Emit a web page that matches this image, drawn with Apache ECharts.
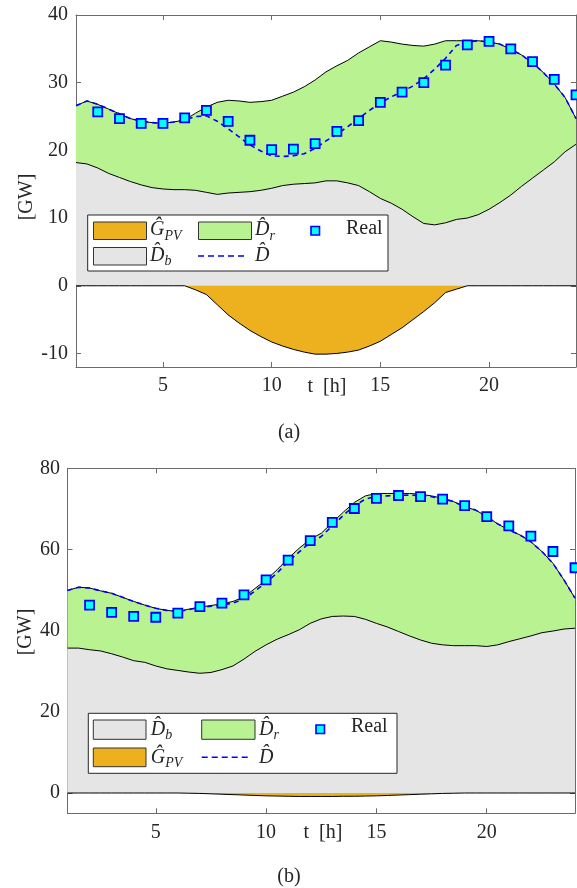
<!DOCTYPE html>
<html><head><meta charset="utf-8">
<script src="https://cdn.jsdelivr.net/npm/echarts@6/dist/echarts.min.js"></script>
<style>html,body{margin:0;padding:0;background:#fff}#c{width:577px;height:888px}</style>
</head><body><div id="c"></div>
<script>
// ---------- shared ----------
const hours = [1,1.5,2,2.5,3,3.5,4,4.5,5,5.5,6,6.5,7,7.5,8,8.5,9,9.5,10,10.5,11,11.5,12,12.5,13,13.5,14,14.5,15,15.5,16,16.5,17,17.5,18,18.5,19,19.5,20,20.5,21,21.5,22,22.5,23,23.5,24];
const realHours = [2,3,4,5,6,7,8,9,10,11,12,13,14,15,16,17,18,19,20,21,22,23,24];
const xTicks = [5,10,15,20];
const aYTicks = [-10,0,10,20,30,40];
const bYTicks = [0,20,40,60,80];

// ---------- chart (a) ----------
const aBase = [18.2,18.0,17.4,16.6,16.0,15.4,14.9,14.5,14.3,14.2,14.2,14.1,13.8,13.5,13.7,13.8,13.9,14.1,14.4,14.8,15.0,15.1,15.2,15.5,15.5,15.2,14.8,13.9,12.9,12.2,11.3,10.2,9.2,9.0,9.3,9.8,10.0,10.5,11.3,12.3,13.4,14.7,15.9,17.1,18.3,19.8,20.9];
const aRes = [8.4,9.3,9.4,9.5,9.4,9.3,9.4,9.6,9.7,10.0,10.3,11.4,12.6,13.6,13.7,13.5,13.2,13.1,13.0,13.2,13.6,14.3,15.2,16.1,17.0,18.1,19.6,21.4,23.3,23.8,24.4,25.3,26.2,26.7,26.9,26.4,26.2,25.7,24.7,23.4,21.5,19.4,17.0,14.4,11.5,8.0,3.8];
const aPV = [0,0,0,0,0,0,0,0,0,0,0,-0.6,-1.3,-2.8,-4.3,-5.5,-6.6,-7.5,-8.3,-8.9,-9.4,-9.8,-10.1,-10.1,-10.0,-9.8,-9.5,-8.9,-8.2,-7.2,-6.2,-5.0,-3.8,-2.5,-1.0,-0.5,0,0,0,0,0,0,0,0,0,0,0];
const aDhat = [26.6,27.3,26.8,26.1,25.4,24.7,24.3,24.1,24.0,24.2,24.5,25.0,25.1,24.3,23.2,22.0,20.8,19.9,19.2,19.1,19.2,19.5,20.3,21.4,22.4,23.5,24.7,25.9,27.0,27.9,28.7,29.5,30.6,32.0,33.6,35.5,36.0,36.2,36.0,35.7,34.9,34.1,32.9,31.5,29.8,27.8,24.7];
const aReal = [25.7,24.7,24.0,24.0,24.8,25.9,24.3,21.5,20.1,20.2,21.0,22.8,24.4,27.1,28.6,30.0,32.6,35.6,36.1,35.0,33.1,30.5,28.2];

// ---------- chart (b) ----------
const bBase = [35.7,35.7,35.3,35.0,34.3,33.5,32.6,32.2,31.3,30.6,30.2,29.8,29.5,29.7,30.4,31.3,33.0,34.9,36.5,37.9,39.0,40.2,41.8,42.9,43.5,43.6,43.5,42.8,41.8,40.9,39.8,38.7,37.7,36.9,36.5,36.3,36.3,36.3,36.1,36.5,37.3,38.0,38.7,39.5,39.9,40.4,40.6];
const bRes = [14.2,15.0,15.2,14.8,14.9,14.7,14.6,14.1,14.2,14.4,14.5,15.5,16.3,16.5,16.2,15.9,15.3,15.5,16.0,17.1,18.8,20.1,20.7,21.1,23.1,25.6,28.1,30.4,32.0,32.9,34.0,35.1,35.9,36.3,36.1,35.5,34.2,33.4,32.0,29.8,27.5,25.6,23.2,20.0,16.7,12.1,7.4];
const bPV = [0,0,0,0,0,0,0,0,0,0,0,-0.05,-0.1,-0.2,-0.3,-0.4,-0.5,-0.6,-0.7,-0.75,-0.8,-0.85,-0.85,-0.85,-0.85,-0.8,-0.8,-0.75,-0.7,-0.6,-0.5,-0.4,-0.3,-0.2,-0.1,-0.05,0,0,0,0,0,0,0,0,0,0,0];
const bDhat = [49.9,50.7,50.5,49.8,49.2,48.2,47.2,46.3,45.5,45.0,44.7,45.2,45.7,46.0,46.3,46.8,47.8,49.8,51.8,54.2,57.0,59.4,61.7,63.2,65.8,68.4,70.8,72.4,73.1,73.2,73.3,73.4,73.3,73.0,72.5,71.8,70.5,69.7,68.1,66.3,64.8,63.6,61.9,59.5,56.6,52.5,48.0];
const bReal = [46.3,44.5,43.5,43.3,44.3,45.9,46.8,48.8,52.5,57.4,62.2,66.7,70.1,72.6,73.3,73.0,72.4,70.8,68.1,65.8,63.3,59.5,55.5];

// ---------- styling ----------
const FONT = '"Liberation Serif","Times New Roman",serif';
const C_PV = '#EDB120', C_RES = '#B9F291', C_BASE = '#E5E5E5';
const AXC = '#6b6b6b', TXT = '#262626';

const pair = (xs, ys) => xs.map((x, i) => [x, ys[i]]);
const stackTop = (p, q) => p.map((v, i) => +(v + q[i]).toFixed(3));

function xAx(grid, pos, labels) {
  return {type:'value', gridIndex:grid, position:pos, min:1, max:24,
    axisLine:{show:true, onZero:false, lineStyle:{color:AXC, width:1}},
    axisTick:{show:true, inside:true, length:5, customValues:xTicks, lineStyle:{color:AXC, width:1}},
    axisLabel:{show:labels, customValues:xTicks, margin:9, color:TXT, fontFamily:FONT, fontSize:20},
    splitLine:{show:false}};
}
function yAx(grid, pos, labels, min, max, ticks, margin) {
  return {type:'value', gridIndex:grid, position:pos, min:min, max:max,
    axisLine:{show:true, onZero:false, lineStyle:{color:AXC, width:1}},
    axisTick:{show:true, inside:true, length:5, customValues:ticks, lineStyle:{color:AXC, width:1}},
    axisLabel:{show:labels, customValues:ticks, margin:margin, color:TXT, fontFamily:FONT, fontSize:20},
    splitLine:{show:false}};
}
function area(xi, yi, data, color, z) {
  return {type:'line', xAxisIndex:xi, yAxisIndex:yi, data:data, symbol:'none', silent:true,
    lineStyle:{color:'#000', width:1}, areaStyle:{color:color, opacity:1, origin:'auto'}, z:z};
}
function dashed(xi, yi, data) {
  return {type:'line', xAxisIndex:xi, yAxisIndex:yi, data:data, symbol:'none', silent:true,
    lineStyle:{color:'#0000FF', width:1.6, type:[5,4]}, z:10};
}
function real(xi, yi, data) {
  return {type:'scatter', xAxisIndex:xi, yAxisIndex:yi, data:data, symbol:'rect', symbolSize:9, silent:true,
    itemStyle:{color:'#00FFFF', borderColor:'#0000FF', borderWidth:1.8, opacity:1}, z:12};
}

// ---------- legend graphics ----------
function txt(x, y, s, size, italic, align) {
  return {type:'text', x:x, y:y, z:101, style:{text:s, fill:TXT,
    font:(italic ? 'italic ' : '') + size + 'px ' + FONT, textAlign:align || 'left', textVerticalAlign:'middle'}};
}
function patch(x, y, w, h, color) {
  return {type:'rect', z:101, shape:{x:x, y:y, width:w, height:h}, style:{fill:color, stroke:'#333', lineWidth:1}};
}
function hatLabel(x, y, main, sub) {
  const els = [txt(x, y, main, 20, true)];
  if (sub) els.push(txt(x + 14.5, y + 6, sub, 14, true));
  return els;
}
function legendA() {
  const e = [];
  e.push({type:'rect', z:100, shape:{x:87.7, y:215, width:300.3, height:56}, style:{fill:'#fff', stroke:'#262626', lineWidth:1}});
  e.push(patch(93.5, 222, 53, 17.5, C_PV));
  e.push(...hatLabel(150, 230, '\u011C', 'PV'));
  e.push(patch(198.5, 222, 53, 17.5, C_RES));
  e.push(...hatLabel(255, 230, 'D\u0302', 'r'));
  e.push({type:'rect', z:101, shape:{x:311, y:226.5, width:8.5, height:8.5}, style:{fill:'#00FFFF', stroke:'#0000FF', lineWidth:1.6}});
  e.push(txt(346, 229, 'Real', 20, false));
  e.push(patch(93.5, 247.5, 53, 17.5, C_BASE));
  e.push(...hatLabel(150, 255.5, 'D\u0302', 'b'));
  e.push({type:'line', z:101, shape:{x1:198, y1:256, x2:246, y2:256}, style:{stroke:'#0000FF', lineWidth:1.6, lineDash:[6,4]}});
  e.push(...hatLabel(255, 255.5, 'D\u0302', null));
  return e;
}
function legendB() {
  const e = [];
  e.push({type:'rect', z:100, shape:{x:88.3, y:713.3, width:308.7, height:60}, style:{fill:'#fff', stroke:'#262626', lineWidth:1}});
  e.push(patch(93.3, 720, 52.7, 19.3, C_BASE));
  e.push(...hatLabel(150.7, 729.5, 'D\u0302', 'b'));
  e.push(patch(201.7, 720, 53.3, 19.3, C_RES));
  e.push(...hatLabel(259, 729.5, 'D\u0302', 'r'));
  e.push({type:'rect', z:101, shape:{x:316, y:725, width:8.5, height:8.5}, style:{fill:'#00FFFF', stroke:'#0000FF', lineWidth:1.6}});
  e.push(txt(351, 727, 'Real', 20, false));
  e.push(patch(93.3, 748, 52.7, 18.7, C_PV));
  e.push(...hatLabel(150.7, 757.3, '\u011C', 'PV'));
  e.push({type:'line', z:101, shape:{x1:201.7, y1:757.3, x2:249, y2:757.3}, style:{stroke:'#0000FF', lineWidth:1.6, lineDash:[6,4]}});
  e.push(...hatLabel(259, 757.3, 'D\u0302', null));
  return e;
}
function rotText(x, y, s) {
  return {type:'text', x:x, y:y, rotation:Math.PI/2, z:101, style:{text:s, fill:TXT, font:'20px ' + FONT, textAlign:'center', textVerticalAlign:'middle'}};
}

const chart = echarts.init(document.getElementById('c'), null, {renderer:'canvas'});
chart.setOption({
  animation:false,
  backgroundColor:'#fff',
  grid:[
    {left:76, top:15, width:500, height:352, containLabel:false},
    {left:67.5, top:468.3, width:507.5, height:345, containLabel:false}
  ],
  xAxis:[xAx(0,'bottom',true), xAx(0,'top',false), xAx(1,'bottom',true), xAx(1,'top',false)],
  yAxis:[
    yAx(0,'left',true,-12,40,aYTicks,8), yAx(0,'right',false,-12,40,aYTicks,8),
    yAx(1,'left',true,-5,80,bYTicks,7.5), yAx(1,'right',false,-5,80,bYTicks,7.5)
  ],
  series:[
    area(0,0,pair(hours, stackTop(aBase,aRes)), C_RES, 2),
    area(0,0,pair(hours, aBase), C_BASE, 3),
    area(0,0,pair(hours, aPV), C_PV, 4),
    dashed(0,0,pair(hours, aDhat)),
    real(0,0,pair(realHours, aReal)),
    area(2,2,pair(hours, stackTop(bBase,bRes)), C_RES, 2),
    area(2,2,pair(hours, bBase), C_BASE, 3),
    area(2,2,pair(hours, bPV), C_PV, 4),
    dashed(2,2,pair(hours, bDhat)),
    real(2,2,pair(realHours, bReal))
  ],
  graphic:[].concat(
    legendA(), legendB(),
    [rotText(27,197,'[GW]'), rotText(26,632,'[GW]'),
     txt(327,387,'t  [h]',20,false,'center'), txt(323,833,'t  [h]',20,false,'center'),
     txt(289,433,'(a)',20,false,'center'), txt(289,877,'(b)',20,false,'center')]
  )
});
</script>
</body></html>
